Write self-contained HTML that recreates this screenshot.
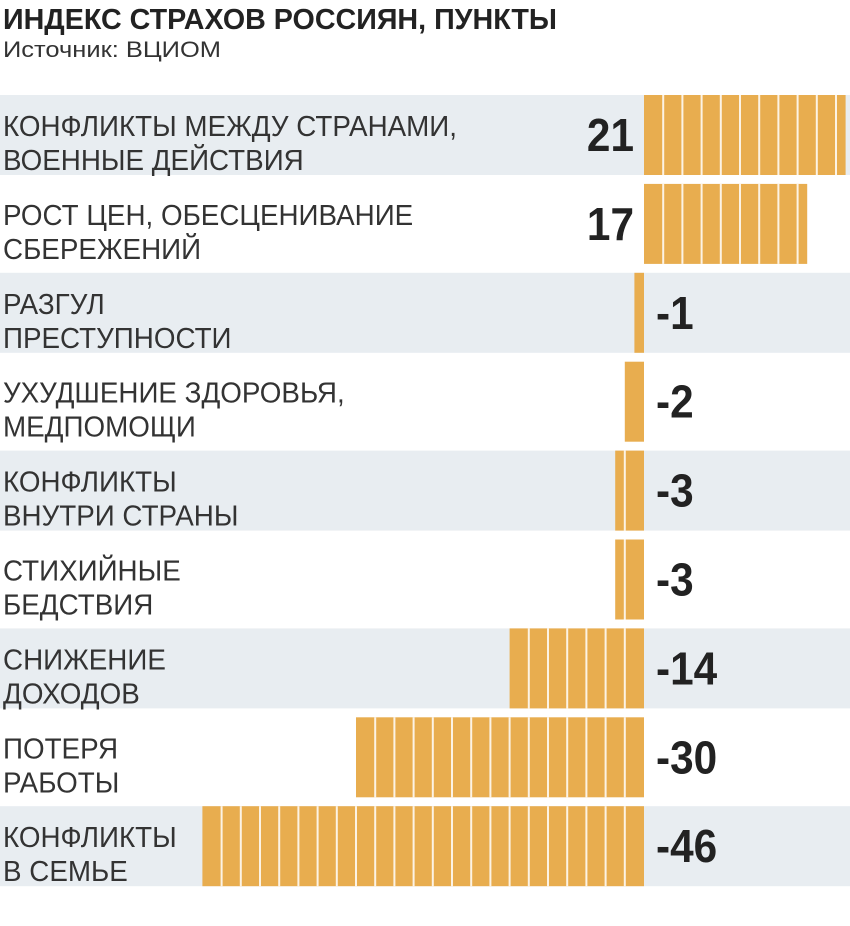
<!DOCTYPE html>
<html><head><meta charset="utf-8"><style>
html,body{margin:0;padding:0;background:#fff;}
svg{display:block;font-family:"Liberation Sans","Noto Sans CJK SC",sans-serif;}
</style></head><body>
<svg id="c" width="850" height="926" viewBox="0 0 850 926">
<text x="3" y="29" font-size="29" font-weight="bold" fill="#222" textLength="554" lengthAdjust="spacingAndGlyphs">ИНДЕКС СТРАХОВ РОССИЯН, ПУНКТЫ</text>
<text x="3" y="57" font-size="22" fill="#333" textLength="218" lengthAdjust="spacingAndGlyphs">Источник: ВЦИОМ</text>
<g id="rows"></g>
</svg>
<script>
const line1 = ["КОНФЛИКТЫ МЕЖДУ СТРАНАМИ,","РОСТ ЦЕН, ОБЕСЦЕНИВАНИЕ","РАЗГУЛ","УХУДШЕНИЕ ЗДОРОВЬЯ,","КОНФЛИКТЫ","СТИХИЙНЫЕ","СНИЖЕНИЕ","ПОТЕРЯ","КОНФЛИКТЫ"];
const line2 = ["ВОЕННЫЕ ДЕЙСТВИЯ","СБЕРЕЖЕНИЙ","ПРЕСТУПНОСТИ","МЕДПОМОЩИ","ВНУТРИ СТРАНЫ","БЕДСТВИЯ","ДОХОДОВ","РАБОТЫ","В СЕМЬЕ"];
const values = [21,17,-1,-2,-3,-3,-14,-30,-46];
const labels = ["21","17","-1","-2","-3","-3","-14","-30","-46"];
const NS="http://www.w3.org/2000/svg";
const g=document.getElementById('rows');
const zeroX=644, unit=9.6, top0=95, pitch=88.9, rowH=80;
function xs(v){return zeroX+v*unit;}
function mk(t,a){const e=document.createElementNS(NS,t);for(const k in a)e.setAttribute(k,a[k]);g.appendChild(e);return e;}
const texts=[];
values.forEach((v,i)=>{
  const y=top0+i*pitch;
  if(i%2===0){
    const bg=mk('rect',{x:0,y:y,width:850,height:rowH,fill:'#e8edf1'});
    
    
  }
  const x0=Math.min(xs(0),xs(v)), w=Math.abs(xs(v)-xs(0));
  const bar=mk('rect',{x:x0,y:y,width:Math.max(w,1),height:rowH,fill:'#e8ad4f'});
  
  
  for(let k=2;k<Math.abs(v);k+=2){
    const lx=xs(Math.sign(v)*k);
    const ln=mk('rect',{x:lx-1,y:y,width:2,height:rowH,fill:'#fff',opacity:0.85});
    
    
  }
  const t1=mk('text',{x:3,y:y+41,'font-size':29,fill:'#333'});
  t1.textContent=line1[i];
  
  
  const t2=mk('text',{x:3,y:y+75,'font-size':29,fill:'#333'});
  t2.textContent=line2[i];
  
  
  texts.push(t1,t2);
  const pos=v>=0;
  const vt=mk('text',{x:pos?zeroX-10:zeroX+12,y:y+56,'font-size':46,'font-weight':'bold',fill:'#222','text-anchor':pos?'end':'start'});
  vt.textContent=labels[i];
  
  
  vt.setAttribute('transform','translate('+(pos?zeroX-10:zeroX+12)+',0) scale(0.92,1) translate('+(-(pos?zeroX-10:zeroX+12))+',0)');
});
const f=454/texts[0].getComputedTextLength();
texts.forEach(t=>{
  t.setAttribute('textLength',t.getComputedTextLength()*f);
  t.setAttribute('lengthAdjust','spacingAndGlyphs');
});
</script>
</body></html>
